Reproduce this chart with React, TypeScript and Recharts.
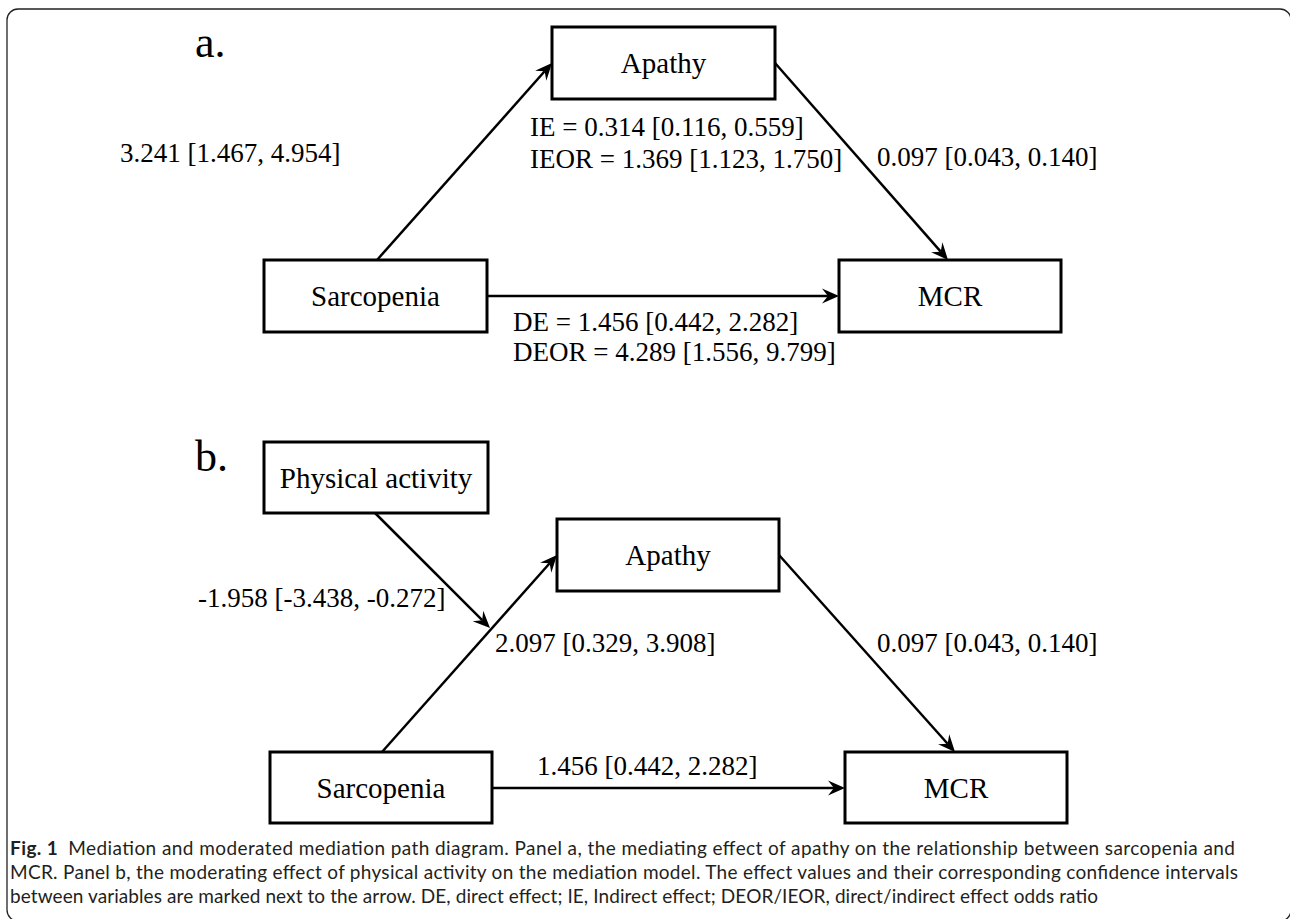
import { ReferenceArea, ReferenceLine, Scatter, ScatterChart, XAxis, YAxis } from "recharts";

const W = 1290;
const H = 919;
const SERIF = '"Liberation Serif", "Times New Roman", serif';
const SANS = 'Lato, "Open Sans", sans-serif';

// node names
const nodesA = ["Sarcopenia", "Apathy", "MCR"];
const nodesB = ["Physical activity", "Sarcopenia", "Apathy", "MCR"];

// effects: [estimate, lower CI, upper CI]
const aPathA = [3.241, 1.467, 4.954];
const bPathA = [0.097, 0.043, 0.14];
const ieA = [0.314, 0.116, 0.559];
const ieorA = [1.369, 1.123, 1.75];
const deA = [1.456, 0.442, 2.282];
const deorA = [4.289, 1.556, 9.799];
const modB = [-1.958, -3.438, -0.272];
const aPathB = [2.097, 0.329, 3.908];
const bPathB = [0.097, 0.043, 0.14];
const cPathB = [1.456, 0.442, 2.282];

const captionLines = [
  "Mediation and moderated mediation path diagram. Panel a, the mediating effect of apathy on the relationship between sarcopenia and",
  "MCR. Panel b, the moderating effect of physical activity on the mediation model. The effect values and their corresponding confidence intervals",
  "between variables are marked next to the arrow. DE, direct effect; IE, Indirect effect; DEOR/IEOR, direct/indirect effect odds ratio",
];

const ci = (v: number[]) => `${v[0].toFixed(3)} [${v[1].toFixed(3)}, ${v[2].toFixed(3)}]`;

// layout (axes map 1:1 to page pixels)
const boxes = [
  { name: nodesA[0], x1: 264, y1: 260, x2: 487, y2: 332 },
  { name: nodesA[1], x1: 552, y1: 27, x2: 775, y2: 99 },
  { name: nodesA[2], x1: 839, y1: 260, x2: 1061, y2: 332 },
  { name: nodesB[0], x1: 264, y1: 442, x2: 488, y2: 513 },
  { name: nodesB[1], x1: 270, y1: 752, x2: 492, y2: 823 },
  { name: nodesB[2], x1: 557, y1: 519, x2: 779, y2: 591 },
  { name: nodesB[3], x1: 845, y1: 752, x2: 1067, y2: 823 },
];

const arrows = [
  { from: [377, 260], to: [552, 63] },
  { from: [775, 63], to: [948, 260] },
  { from: [487, 296], to: [839, 296] },
  { from: [375, 513], to: [490, 628] },
  { from: [382, 752], to: [557, 555] },
  { from: [779, 555], to: [955, 752] },
  { from: [492, 788], to: [845, 788] },
];

const labels = [
  { x: 195, y: 42, text: "a.", size: 44 },
  { x: 195, y: 456, text: "b.", size: 44 },
  { x: 120, y: 153, text: ci(aPathA) },
  { x: 530, y: 127, text: `IE = ${ci(ieA)}` },
  { x: 530, y: 159, text: `IEOR = ${ci(ieorA)}` },
  { x: 877, y: 157, text: ci(bPathA) },
  { x: 513, y: 322, text: `DE = ${ci(deA)}` },
  { x: 513, y: 352, text: `DEOR = ${ci(deorA)}` },
  { x: 198, y: 598, text: ci(modB) },
  { x: 495, y: 643, text: ci(aPathB) },
  { x: 877, y: 643, text: ci(bPathB) },
  { x: 537, y: 766, text: ci(cPathB) },
];

const caption = [
  { x: 10, y: 847, text: captionLines[0], bold: "Fig. 1", len: 1225 },
  { x: 10, y: 871, text: captionLines[1], len: 1228 },
  { x: 10, y: 895, text: captionLines[2], len: 1088 },
];

const TextMark = (p: any) => (
  <text
    x={p.cx}
    y={p.cy}
    fontFamily={SERIF}
    fontSize={p.payload.size ?? 27}
    dominantBaseline="central"
    fill="#000"
  >
    {p.payload.text}
  </text>
);

const CaptionMark = (p: any) => (
  <text
    x={p.cx}
    y={p.cy}
    fontFamily={SANS}
    fontSize={19}
    dominantBaseline="central"
    fill="#231f20"
    textLength={p.payload.len}
    lengthAdjust="spacing"
  >
    {p.payload.bold && <tspan fontWeight={700}>{p.payload.bold}</tspan>}
    <tspan dx={p.payload.bold ? 10 : 0}>{p.payload.text}</tspan>
  </text>
);

const Arrow = (p: any) => {
  const { x1, y1, x2, y2 } = p;
  const dx = x2 - x1;
  const dy = y2 - y1;
  const len = Math.hypot(dx, dy);
  const ux = dx / len;
  const uy = dy / len;
  const L = 17;
  const Wd = 7.5;
  const bx = x2 - ux * L;
  const by = y2 - uy * L;
  const nx = x2 - ux * L * 0.65;
  const ny = y2 - uy * L * 0.65;
  const head = `M${x2},${y2} L${bx - uy * Wd},${by + ux * Wd} L${nx},${ny} L${bx + uy * Wd},${by - ux * Wd} Z`;
  return (
    <g>
      <line x1={x1} y1={y1} x2={nx} y2={ny} stroke="#000" strokeWidth={2.5} />
      <path d={head} fill="#000" />
    </g>
  );
};

export default function App() {
  return (
    <div style={{ position: "absolute", left: 0, top: 0, width: W, height: H, background: "#fff" }}>
      <ScatterChart width={W} height={H} margin={{ top: 0, right: 0, bottom: 0, left: 0 }}>
        <XAxis type="number" dataKey="x" domain={[0, W]} hide allowDataOverflow />
        <YAxis type="number" dataKey="y" domain={[0, H]} reversed hide allowDataOverflow />
        <ReferenceArea
          x1={7}
          x2={1291}
          y1={9}
          y2={921}
          ifOverflow="visible"
          shape={(p: any) => (
            <rect x={p.x} y={p.y} width={p.width} height={p.height} rx={11} fill="none" stroke="#222" strokeWidth={1.3} />
          )}
        />
        {arrows.map((a, i) => (
          <ReferenceLine
            key={`ar${i}`}
            segment={[
              { x: a.from[0], y: a.from[1] },
              { x: a.to[0], y: a.to[1] },
            ]}
            ifOverflow="visible"
            shape={Arrow}
          />
        ))}
        {boxes.map((b) => (
          <ReferenceArea
            key={`${b.name}${b.x1}${b.y1}`}
            x1={b.x1}
            x2={b.x2}
            y1={b.y1}
            y2={b.y2}
            ifOverflow="visible"
            shape={(p: any) => (
              <g>
                <rect x={p.x} y={p.y} width={p.width} height={p.height} fill="#fff" stroke="#000" strokeWidth={3} />
                <text
                  x={p.x + p.width / 2}
                  y={p.y + p.height / 2}
                  textAnchor="middle"
                  dominantBaseline="central"
                  fontFamily={SERIF}
                  fontSize={29}
                  fill="#000"
                >
                  {b.name}
                </text>
              </g>
            )}
          />
        ))}
        <Scatter data={labels} shape={TextMark} isAnimationActive={false} />
        <Scatter data={caption} shape={CaptionMark} isAnimationActive={false} />
      </ScatterChart>
    </div>
  );
}
